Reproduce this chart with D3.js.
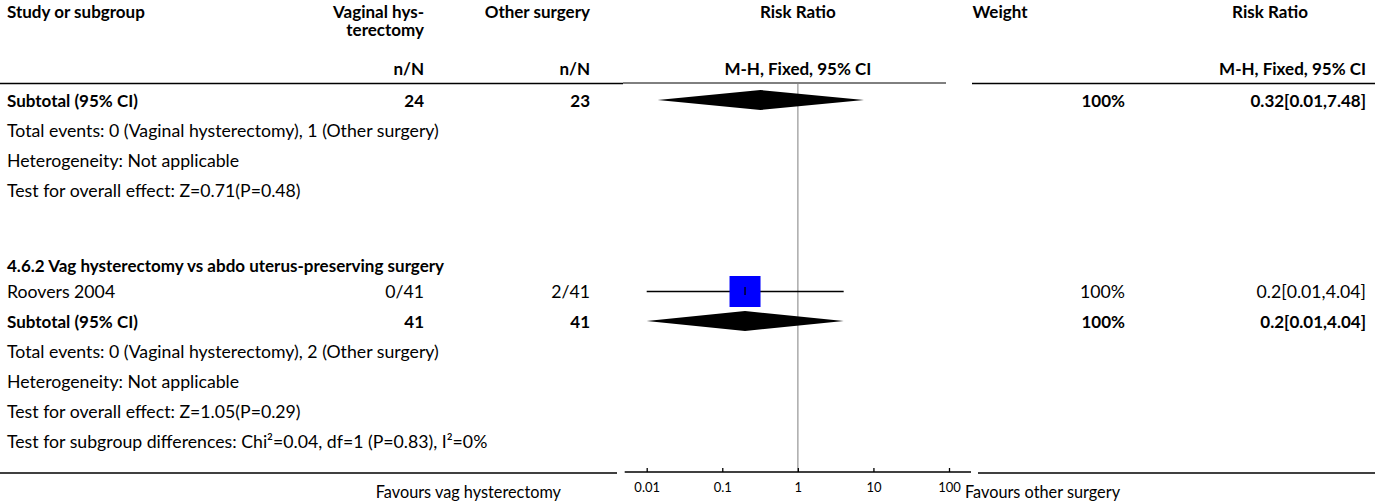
<!DOCTYPE html>
<html>
<head>
<meta charset="utf-8">
<script src="https://cdn.jsdelivr.net/npm/d3@7"></script>
<style>
  body { margin: 0; background: #fff; }
  text { font-family: Lato, "Noto Sans", sans-serif; fill: #000; }
</style>
</head>
<body>
<div id="forest"></div>
<script>
// study level data
const studies = ["Roovers 2004"];
const vagEvents = ["0/41"];
const otherEvents = ["2/41"];
const studyRR = [0.2], studyLo = [0.01], studyHi = [4.04];
const studyWeight = ["100%"];
const studyCI = ["0.2[0.01,4.04]"];

// subtotals (one per subgroup)
const subVagN = [24, 41];
const subOtherN = [23, 41];
const subRR = [0.32, 0.2], subLo = [0.014, 0.01], subHi = [7.48, 4.04];
const subWeight = ["100%", "100%"];
const subCI = ["0.32[0.01,7.48]", "0.2[0.01,4.04]"];

const totalEvents = ["Total events: 0 (Vaginal hysterectomy), 1 (Other surgery)",
                     "Total events: 0 (Vaginal hysterectomy), 2 (Other surgery)"];
const heterogeneity = ["Heterogeneity: Not applicable", "Heterogeneity: Not applicable"];
const overallEffect = ["Test for overall effect: Z=0.71(P=0.48)", "Test for overall effect: Z=1.05(P=0.29)"];
const subgroupHeading = "4.6.2 Vag hysterectomy vs abdo uterus-preserving surgery";
const subgroupTest = "Test for subgroup differences: Chi\u00b2=0.04, df=1 (P=0.83), I\u00b2=0%";

const axisTicks = [0.01, 0.1, 1, 10, 100];

const width = 1375, height = 504;
const fs = 17.7, fsb = 17;

const svg = d3.select("#forest").append("svg")
  .attr("width", width).attr("height", height);

// build rows
let rows = [];
rows.push({type: "subtotal", i: 0});
rows.push({type: "note", text: totalEvents[0]});
rows.push({type: "note", text: heterogeneity[0]});
rows.push({type: "note", text: overallEffect[0]});
rows.push({type: "heading", text: subgroupHeading});
studies.forEach((s, i) => rows.push({type: "study", i: i}));
rows.push({type: "subtotal", i: 1});
rows.push({type: "note", text: totalEvents[1]});
rows.push({type: "note", text: heterogeneity[1]});
rows.push({type: "note", text: overallEffect[1]});
rows.push({type: "note", text: subgroupTest});

// vertical layout
let yy = 101;
rows.forEach((r, k) => {
  if (k > 0) {
    if (r.type == "heading") yy += 75;
    else if (rows[k-1].type == "heading") yy += 26;
    else yy += 30;
  }
  r.y = yy;
});

const x = d3.scaleLog().domain([0.01, 100]).range([646.7, 949]);
const xRight1 = 424, xRight2 = 590, xWeight = 1125, xCI = 1366;

// header
const head = svg.append("g").attr("font-weight", "bold").attr("font-size", fsb);
head.append("text").attr("x", 7).attr("y", 18).text("Study or subgroup");
head.append("text").attr("x", xRight1).attr("y", 18).attr("text-anchor", "end").text("Vaginal hys-");
head.append("text").attr("x", xRight1).attr("y", 36).attr("text-anchor", "end").text("terectomy");
head.append("text").attr("x", xRight1).attr("y", 75).attr("text-anchor", "end").text("n/N");
head.append("text").attr("x", xRight2).attr("y", 18).attr("text-anchor", "end").text("Other surgery");
head.append("text").attr("x", xRight2).attr("y", 75).attr("text-anchor", "end").text("n/N");
head.append("text").attr("x", x(1)).attr("y", 18).attr("text-anchor", "middle").text("Risk Ratio");
head.append("text").attr("x", x(1)).attr("y", 75).attr("text-anchor", "middle").text("M-H, Fixed, 95% CI");
head.append("text").attr("x", 1000).attr("y", 18).attr("text-anchor", "middle").text("Weight");
head.append("text").attr("x", 1270).attr("y", 18).attr("text-anchor", "middle").text("Risk Ratio");
head.append("text").attr("x", xCI).attr("y", 75).attr("text-anchor", "end").text("M-H, Fixed, 95% CI");

// header rules
const rule = (x1, x2, y, w) => svg.append("line")
  .attr("x1", x1).attr("x2", x2).attr("y1", y).attr("y2", y)
  .attr("stroke", "#000").attr("stroke-width", w);
rule(0, 623, 83.5, 1.5);
rule(623, 946, 83, 1);
rule(972, width, 83.5, 1.5);

// reference line at RR = 1
svg.append("line")
  .attr("x1", x(1)).attr("x2", x(1))
  .attr("y1", 84).attr("y2", 472)
  .attr("stroke", "#aaa").attr("stroke-width", 1.5);

// rows
const body = svg.append("g").attr("font-size", fs);
const dh = 10;
rows.forEach(r => {
  const ty = r.y + 6;
  if (r.type == "note") {
    body.append("text").attr("x", 7).attr("y", ty).text(r.text);
  } else if (r.type == "heading") {
    body.append("text").attr("x", 7).attr("y", ty).attr("font-weight", "bold").attr("font-size", fsb).text(r.text);
  } else if (r.type == "study") {
    const i = r.i;
    body.append("text").attr("x", 7).attr("y", ty).text(studies[i]);
    body.append("text").attr("x", xRight1).attr("y", ty).attr("text-anchor", "end").text(vagEvents[i]);
    body.append("text").attr("x", xRight2).attr("y", ty).attr("text-anchor", "end").text(otherEvents[i]);
    body.append("text").attr("x", xWeight).attr("y", ty).attr("text-anchor", "end").text(studyWeight[i]);
    body.append("text").attr("x", xCI).attr("y", ty).attr("text-anchor", "end").text(studyCI[i]);
    svg.append("line")
      .attr("x1", x(studyLo[i])).attr("x2", x(studyHi[i]))
      .attr("y1", r.y - 0.5).attr("y2", r.y - 0.5)
      .attr("stroke", "#000").attr("stroke-width", 1.3);
    svg.append("rect")
      .attr("x", x(studyRR[i]) - 15.5).attr("y", r.y - 16)
      .attr("width", 31).attr("height", 31)
      .attr("fill", "#0000ff");
    svg.append("line")
      .attr("x1", x(studyRR[i])).attr("x2", x(studyRR[i]))
      .attr("y1", r.y - 5).attr("y2", r.y + 3)
      .attr("stroke", "#000").attr("stroke-width", 1.3);
  } else if (r.type == "subtotal") {
    const i = r.i;
    const b = body.append("g").attr("font-weight", "bold").attr("font-size", fsb);
    b.append("text").attr("x", 7).attr("y", ty).text("Subtotal (95% CI)");
    b.append("text").attr("x", xRight1).attr("y", ty).attr("text-anchor", "end").text(subVagN[i]);
    b.append("text").attr("x", xRight2).attr("y", ty).attr("text-anchor", "end").text(subOtherN[i]);
    b.append("text").attr("x", xWeight).attr("y", ty).attr("text-anchor", "end").text(subWeight[i]);
    b.append("text").attr("x", xCI).attr("y", ty).attr("text-anchor", "end").text(subCI[i]);
    const cy = r.y - 1;
    svg.append("path")
      .attr("d", `M${x(subLo[i])},${cy}L${x(subRR[i])},${cy - dh}L${x(subHi[i])},${cy}L${x(subRR[i])},${cy + dh}Z`)
      .attr("fill", "#000");
  }
});

// bottom rules and axis
rule(0, 617, 473, 1.5);
rule(978, width, 473, 1.5);
const axisY = 472;
const [r0, r1] = x.range();
rule(r0 - 22, r1 + 22, axisY, 1.5);

const ax = svg.append("g")
  .attr("transform", `translate(0,${axisY})`)
  .call(d3.axisBottom(x).tickValues(axisTicks).tickFormat(d => String(d))
    .tickSizeInner(-4).tickSizeOuter(0).tickPadding(11));
ax.select(".domain").remove();
ax.selectAll(".tick line").attr("stroke", "#000").attr("stroke-width", 1.3);
ax.selectAll(".tick text").attr("font-family", "Lato, sans-serif").attr("font-size", 13).attr("fill", "#000");

svg.append("text").attr("x", 561).attr("y", 498).attr("font-size", 16.3)
  .attr("text-anchor", "end").text("Favours vag hysterectomy");
svg.append("text").attr("x", 965).attr("y", 498).attr("font-size", 16.3)
  .text("Favours other surgery");
</script>
</body>
</html>
